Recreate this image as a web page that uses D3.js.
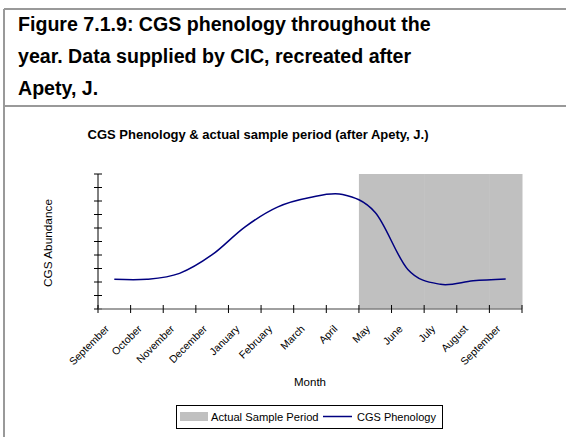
<!DOCTYPE html>
<html><head><meta charset="utf-8">
<script src="https://cdn.jsdelivr.net/npm/d3@7"></script>
<style>body{margin:0;background:#fff;}svg{display:block;font-family:"Liberation Sans",Arial,sans-serif;}</style>
</head><body>
<script>
const months = ["September","October","November","December","January","February","March","April","May","June","July","August","September "];
const phenology = [2.2, 2.2, 2.64, 4.02, 6.07, 7.55, 8.26, 8.48, 7.15, 2.93, 1.83, 2.09, 2.22];
const sampleMonths = ["May","June","July","August","September "];
const sampleLevel = 10;
const yTicks = [0,1,2,3,4,5,6,7,8,9,10];
const titleLines = ["Figure 7.1.9: CGS phenology throughout the","year. Data supplied by CIC, recreated after","Apety, J."];

const W=566,H=437;
const svg=d3.select("body").append("svg").attr("width",W).attr("height",H);
// frame
svg.append("line").attr("x1",4).attr("x2",4).attr("y1",9).attr("y2",H).attr("stroke","#999").attr("stroke-width",2);
svg.append("line").attr("x1",4).attr("x2",W).attr("y1",9).attr("y2",9).attr("stroke","#999").attr("stroke-width",2);
svg.append("line").attr("x1",4).attr("x2",W).attr("y1",106).attr("y2",106).attr("stroke","#999").attr("stroke-width",2);
// title
svg.append("g").selectAll("text").data(titleLines).join("text")
  .attr("x",18).attr("y",(d,i)=>31+i*32).attr("font-size",19.6).attr("font-weight","bold").attr("fill","#000").text(d=>d);
svg.append("text").attr("x",258).attr("y",139).attr("text-anchor","middle").attr("font-size",13).attr("font-weight","bold")
  .text("CGS Phenology & actual sample period (after Apety, J.)");

const L=98,R=522,T=174,B=309;
const x=d3.scaleBand().domain(months).range([L,R]).padding(0);
const y=d3.scaleLinear().domain([0,10]).range([B,T]);

// shaded bars
svg.append("g").selectAll("rect").data(sampleMonths).join("rect")
  .attr("x",d=>x(d)).attr("width",x.bandwidth()+0.5).attr("y",y(sampleLevel)).attr("height",y(0)-y(sampleLevel)).attr("fill","#c0c0c0");

// line
const line=d3.line().x((d,i)=>x(months[i])+x.bandwidth()/2).y(d=>y(d)).curve(d3.curveCardinal.tension(0));
svg.append("path").datum(phenology).attr("d",line).attr("fill","none").attr("stroke","#000080").attr("stroke-width",1.5);

// y axis
const yAxis=svg.append("g");
yAxis.append("line").attr("x1",L).attr("x2",L).attr("y1",T).attr("y2",B).attr("stroke","#000");
yAxis.selectAll("line.t").data(yTicks).join("line").attr("class","t").attr("x1",L-4).attr("x2",L+4).attr("y1",d=>y(d)).attr("y2",d=>y(d)).attr("stroke","#000");
// x axis
const xAxis=svg.append("g");
xAxis.append("line").attr("x1",L).attr("x2",R).attr("y1",B).attr("y2",B).attr("stroke","#808080").attr("stroke-width",1.5);
const tickPos=months.map(m=>x(m)).concat([R]);
xAxis.selectAll("line.t").data(tickPos).join("line").attr("class","t").attr("x1",d=>d).attr("x2",d=>d).attr("y1",B-4).attr("y2",B+4).attr("stroke","#000");
xAxis.selectAll("text").data(months).join("text")
  .attr("transform",d=>`translate(${x(d)+x.bandwidth()/2-4.5},${B+20.5}) rotate(-45)`)
  .attr("text-anchor","end").attr("font-size",10.5).attr("fill","#000").text(d=>d.trim());

svg.append("text").attr("x",(L+R)/2).attr("y",386).attr("text-anchor","middle").attr("font-size",11.5).text("Month");
svg.append("text").attr("transform","translate(52,243) rotate(-90)").attr("text-anchor","middle").attr("font-size",11.8).text("CGS Abundance");

// legend
const lg=svg.append("g");
lg.append("rect").attr("x",176.5).attr("y",405.5).attr("width",266).attr("height",23).attr("fill","#fff").attr("stroke","#000");
lg.append("rect").attr("x",180).attr("y",412).attr("width",28).attr("height",9).attr("fill","#c0c0c0");
lg.append("text").attr("x",211).attr("y",420.5).attr("font-size",11.2).text("Actual Sample Period");
lg.append("line").attr("x1",323).attr("x2",352).attr("y1",416.5).attr("y2",416.5).attr("stroke","#000080").attr("stroke-width",1.5);
lg.append("text").attr("x",357).attr("y",420.5).attr("font-size",11).text("CGS Phenology");
</script>
</body></html>
